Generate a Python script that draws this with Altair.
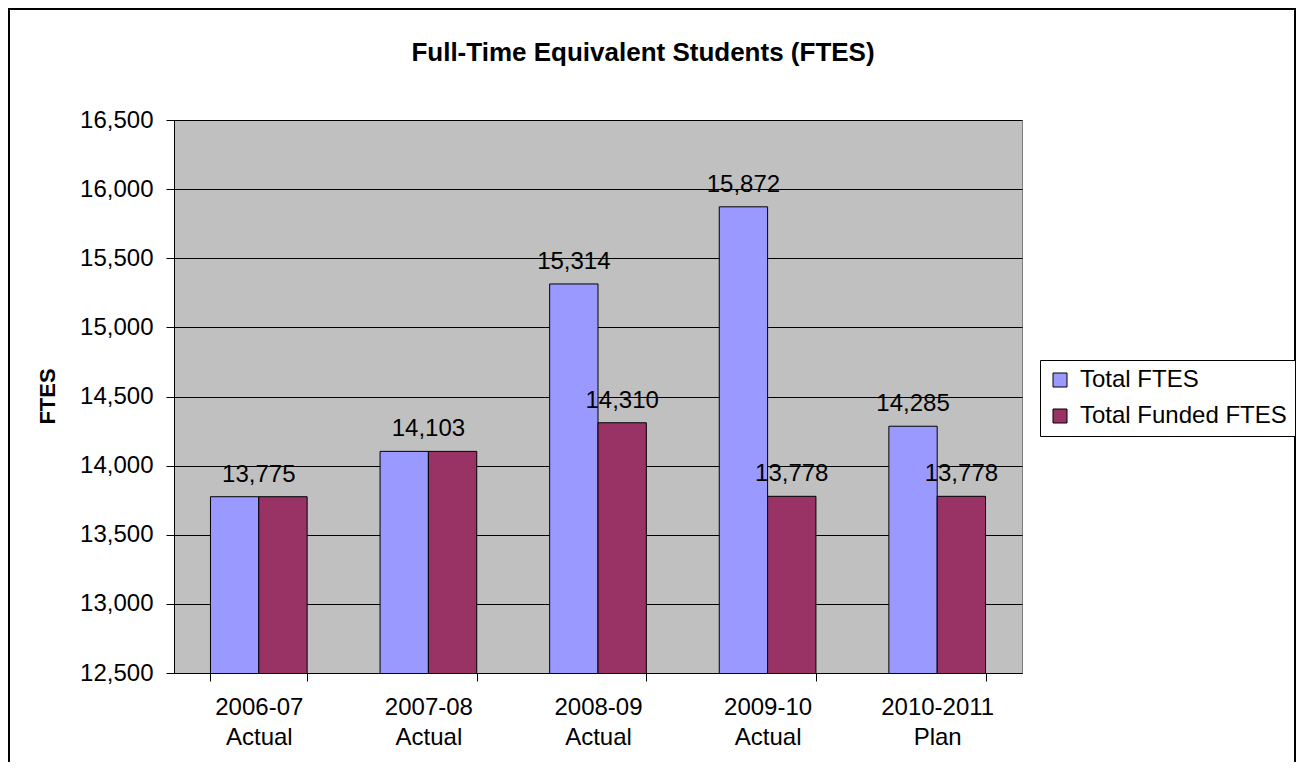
import altair as alt
import pandas as pd

categories = ["2006-07|Actual", "2007-08|Actual", "2008-09|Actual", "2009-10|Actual", "2010-2011|Plan"]
total_ftes = [13775, 14103, 15314, 15872, 14285]
funded_ftes = [13775, 14103, 14310, 13778, 13778]
series_names = ["Total FTES", "Total Funded FTES"]
series_colors = ["#9999FF", "#993366"]
y_ticks = [12500, 13000, 13500, 14000, 14500, 15000, 15500, 16000, 16500]
chart_title = "Full-Time Equivalent Students (FTES)"

rows = []
for c, t, f in zip(categories, total_ftes, funded_ftes):
    rows.append({"cat": c, "series": series_names[0], "value": t, "same": t == f})
    rows.append({"cat": c, "series": series_names[1], "value": f, "same": t == f})
df = pd.DataFrame(rows)

FONT = "Liberation Sans"
W, H = 848, 553

xscale = alt.Scale(domain=categories, paddingInner=0.43, paddingOuter=0.215)
yscale = alt.Scale(domain=[12500, 16500], nice=False, zero=False)

x_enc = alt.X("cat:N", scale=xscale, sort=categories, title=None,
              axis=alt.Axis(labelExpr="split(datum.label, '|')", labelAngle=0,
                            labelFontSize=24, labelFont=FONT, labelColor="black",
                            labelPadding=14, labelLineHeight=30, labelBaseline="top",
                            tickBand="extent", ticks=True, tickSize=8, tickColor="black",
                            domainColor="black", grid=False))
y_enc = alt.Y("value:Q", scale=yscale,
              axis=alt.Axis(values=y_ticks, format=",.0f", title="FTES",
                            titleFont=FONT, titleFontSize=22, titleFontWeight="bold",
                            titleColor="black", titleX=-127, titleY=276,
                            titleAngle=270, titleAlign="center", titleBaseline="middle",
                            labelFontSize=24, labelFont=FONT, labelColor="black",
                            labelPadding=13, tickSize=8, tickColor="black",
                            domainColor="black", grid=True, gridColor="#000000",
                            gridWidth=1))

base = alt.Chart(df)

bars = base.mark_bar(stroke="black", strokeWidth=1, clip=True).encode(
    xOffset=alt.XOffset("series:N", sort=series_names, scale=alt.Scale(paddingInner=0, paddingOuter=0)),
    fill=alt.Fill("series:N", sort=series_names,
                  scale=alt.Scale(domain=series_names, range=series_colors),
                  legend=alt.Legend(title=None, orient="none", legendX=866, legendY=240,
                                    labelFont=FONT, labelFontSize=24, labelColor="black",
                                    labelLimit=400,
                                    symbolType="square", symbolSize=196,
                                    symbolStrokeColor="black", symbolStrokeWidth=1,
                                    rowPadding=12, padding=8, labelOffset=8,
                                    strokeColor="#000000", fillColor="white")),
)

labels_split = base.transform_filter("!datum.same").mark_text(
    font=FONT, fontSize=24, color="black", baseline="bottom", dy=-10
).encode(
    xOffset=alt.XOffset("series:N", sort=series_names),
    text=alt.Text("value:Q", format=","),
)

labels_same = base.transform_filter("datum.same && datum.series == 'Total FTES'").mark_text(
    font=FONT, fontSize=24, color="black", baseline="bottom", dy=-10
).encode(
    text=alt.Text("value:Q", format=","),
)

data_layers = alt.layer(bars, labels_split, labels_same).encode(x=x_enc, y=y_enc)

one = pd.DataFrame({"k": [0]})
frame = alt.Chart(one).mark_rect(
    fillOpacity=0, stroke="black", strokeWidth=2, clip=False
).encode(
    x=alt.value(-165), x2=alt.value(1121), y=alt.value(-111), y2=alt.value(700)
)
title_text = alt.Chart(one).mark_text(
    font=FONT, fontSize=26, fontWeight="bold", color="black",
    align="center", baseline="alphabetic", clip=False
).encode(
    x=alt.value(469), y=alt.value(-59), text=alt.value(chart_title)
)

chart = alt.layer(frame, title_text, data_layers).properties(
    width=W, height=H,
    background="white",
    autosize=alt.AutoSizeParams(type="none"),
    padding={"left": 166, "top": 112, "right": 274, "bottom": 89},
).configure_view(
    fill="#C0C0C0", stroke="#808080", strokeWidth=1
)

chart.save("out.html", embed_options={"renderer": "svg", "actions": False})
